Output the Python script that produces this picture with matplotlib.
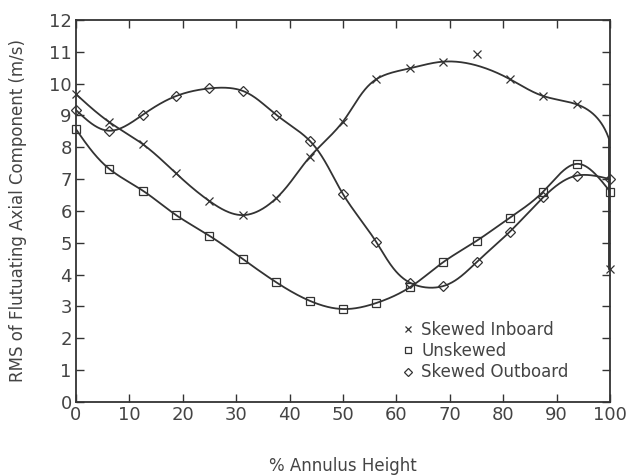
import numpy as np
import matplotlib.pyplot as plt
from matplotlib.lines import Line2D

# Data
height = [0, 6.25, 12.5, 18.75, 25, 31.25, 37.5, 43.75, 50, 56.25,
          62.5, 68.75, 75, 81.25, 87.5, 93.75, 100]
inboard = [9.67, 8.79, 8.10, 7.18, 6.31, 5.87, 6.40, 7.69, 8.81, 10.14,
           10.48, 10.69, 10.93, 10.14, 9.61, 9.35, 4.18]
unskewed = [8.57, 7.32, 6.64, 5.87, 5.22, 4.49, 3.76, 3.18, 2.92, 3.11,
            3.60, 4.39, 5.06, 5.79, 6.61, 7.48, 6.61]
outboard = [9.17, 8.52, 9.02, 9.61, 9.85, 9.77, 9.02, 8.21, 6.53, 5.02,
            3.75, 3.64, 4.39, 5.35, 6.43, 7.11, 7.00]
# the inboard point at 75 % sits off the fitted curve
inboard_skip = [12]

ink = '#333333'


def natural_spline(t, y, tt):
    n = len(t)
    h = np.diff(t)
    A = np.zeros((n, n))
    b = np.zeros(n)
    A[0, 0] = A[-1, -1] = 1
    for i in range(1, n - 1):
        A[i, i - 1] = h[i - 1]
        A[i, i] = 2 * (h[i - 1] + h[i])
        A[i, i + 1] = h[i]
        b[i] = 3 * ((y[i + 1] - y[i]) / h[i] - (y[i] - y[i - 1]) / h[i - 1])
    c = np.linalg.solve(A, b)
    out = np.empty_like(tt)
    for k, s in enumerate(tt):
        i = min(np.searchsorted(t, s, side='right') - 1, n - 2)
        d = s - t[i]
        bi = (y[i + 1] - y[i]) / h[i] - h[i] * (2 * c[i] + c[i + 1]) / 3
        di = (c[i + 1] - c[i]) / (3 * h[i])
        out[k] = y[i] + bi * d + c[i] * d ** 2 + di * d ** 3
    return out


def smooth_curve(x, y):
    # parametric spline in screen-like units so steep ends turn smoothly
    x = np.asarray(x, float)
    y = np.asarray(y, float)
    u = x / 100
    v = y / 12 * (382 / 534)
    t = np.concatenate([[0], np.cumsum(np.hypot(np.diff(u), np.diff(v)))])
    tt = np.linspace(0, t[-1], 800)
    cx = np.clip(natural_spline(t, x, tt), 0, 99.8)
    return cx, natural_spline(t, y, tt)


fig = plt.figure(figsize=(6.33, 4.75), dpi=100)
ax = fig.add_axes([0.12, 0.1537, 0.8437, 0.8043])

series = [(inboard, 'x', 'Skewed Inboard', inboard_skip),
          (unskewed, 's', 'Unskewed', []),
          (outboard, 'D', 'Skewed Outboard', [])]

handles = []
for vals, mk, name, skip in series:
    keep = [i for i in range(len(height)) if i not in skip]
    cx, cy = smooth_curve([height[i] for i in keep], [vals[i] for i in keep])
    ax.plot(cx, cy, color=ink, lw=1.3)
    ms = 5 if mk == 'D' else 5.5
    ax.plot(height, vals, linestyle='none', marker=mk, ms=ms, mfc='none',
            mec=ink, mew=0.9, clip_on=False)
    handles.append(Line2D([], [], linestyle='none', marker=mk, ms=ms - 1,
                          mfc='none', mec=ink, mew=0.9, label=name))

ax.set_xlim(0, 100)
ax.set_ylim(0, 12)
ax.set_xticks(range(0, 101, 10))
ax.set_yticks(range(0, 13))
ax.tick_params(direction='in', length=6, width=1, colors=ink,
               top=True, right=True, labelsize=13, labelcolor='#444444', pad=3)
for s in ax.spines.values():
    s.set_color(ink)
    s.set_linewidth(1.3)

ax.set_xlabel('% Annulus Height', fontsize=12, color='#444444', labelpad=24)
ax.set_ylabel('RMS of Flutuating Axial Component (m/s)', fontsize=12,
              color='#444444', labelpad=16)

leg = ax.legend(handles=handles, loc='upper left', bbox_to_anchor=(0.6, 0.23),
                frameon=False, fontsize=12, handlelength=0.6, handletextpad=0.5,
                labelspacing=0.2, borderaxespad=0)
for t in leg.get_texts():
    t.set_color('#444444')

fig.savefig('out.png', dpi=100)
